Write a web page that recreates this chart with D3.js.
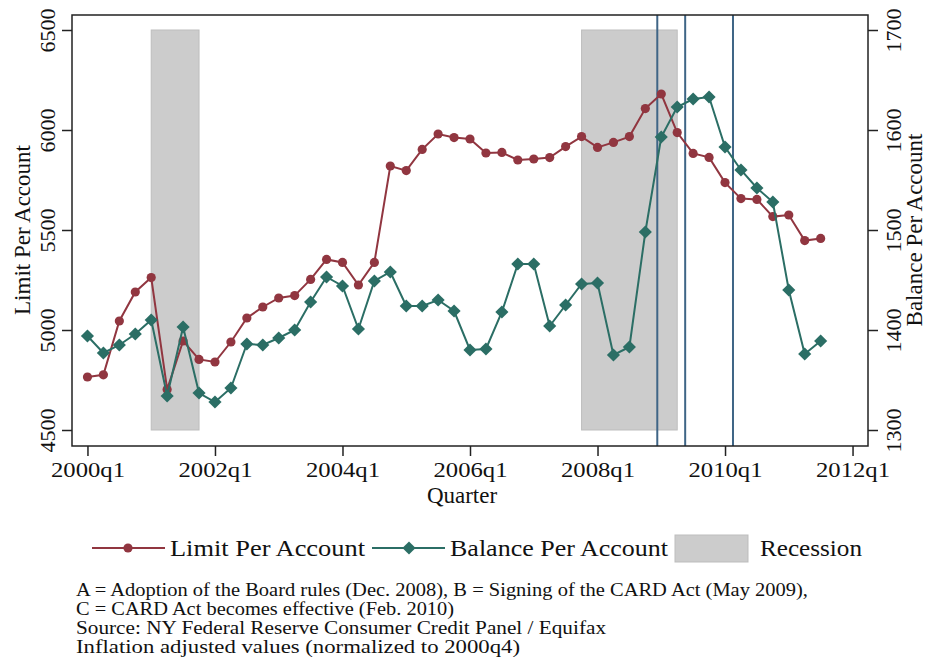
<!DOCTYPE html>
<html>
<head>
<meta charset="utf-8">
<script src="https://cdn.jsdelivr.net/npm/d3@7"></script>
<style>
  body { margin: 0; background: #fff; }
  text { font-family: "Liberation Serif", "DejaVu Serif", serif; fill: #111; }
</style>
</head>
<body>
<script>
(function () {
  'use strict'

  // quarters, 2000q1 = 0
  var quarters = d3.range(47)

  var limitPerAccount = [
    4765, 4776, 5045, 5190, 5262, 4703, 4945, 4853, 4840, 4940,
    5060, 5115, 5160, 5172, 5253, 5353, 5338, 5225, 5338, 5820,
    5797, 5903, 5980, 5962, 5955, 5885, 5888, 5850, 5855, 5862,
    5917, 5967, 5913, 5938, 5967, 6107, 6180, 5987, 5883, 5863,
    5737, 5657, 5653, 5567, 5575, 5447, 5458
  ]

  var balancePerAccount = [
    1394, 1377, 1385, 1396, 1410, 1334, 1403, 1337, 1328, 1342,
    1386, 1385, 1392, 1400, 1428, 1453, 1444, 1401, 1449, 1458,
    1424, 1424, 1430, 1419, 1380, 1381, 1418, 1466, 1466, 1404,
    1425, 1446, 1447, 1375, 1383, 1498, 1593, 1623, 1631, 1633,
    1583, 1560, 1542, 1528, 1440, 1376, 1389
  ]

  // recession spans, in quarter index
  var recessions = [[4, 7], [31, 37]]
  // A, B, C event dates, in quarter index
  var events = [35.75, 37.5, 40.5]

  var xTicks = [0, 8, 16, 24, 32, 40, 48]
  var xTickLabels = ['2000q1', '2002q1', '2004q1', '2006q1', '2008q1', '2010q1', '2012q1']
  var leftTicks = [4500, 5000, 5500, 6000, 6500]
  var rightTicks = [1300, 1400, 1500, 1600, 1700]

  var notes = [
    'A = Adoption of the Board rules (Dec. 2008), B = Signing of the CARD Act (May 2009),',
    'C = CARD Act becomes effective (Feb. 2010)',
    'Source: NY Federal Reserve Consumer Credit Panel / Equifax',
    'Inflation adjusted values (normalized to 2000q4)'
  ]

  var red = '#913640'
  var teal = '#2b6e65'
  var vline = '#3f6586'

  var W = 932
  var H = 663
  var box = { left: 72, top: 15, right: 868, bottom: 446 }

  var svg = d3.select('body').append('svg')
    .attr('width', W)
    .attr('height', H)

  var x = d3.scaleLinear().domain([-0.97, 48.97]).range([box.left, box.right])
  var yL = d3.scaleLinear().domain([4500, 6500]).range([430, 30])
  var yR = d3.scaleLinear().domain([1300, 1700]).range([430, 30])

  // recession shading
  svg.append('g').selectAll('rect')
    .data(recessions)
    .enter().append('rect')
      .attr('x', function (d) { return x(d[0]) })
      .attr('width', function (d) { return x(d[1]) - x(d[0]) })
      .attr('y', yL(6500))
      .attr('height', yL(4500) - yL(6500))
      .attr('fill', '#cccccc')
      .attr('stroke', '#bdbdbd')
      .attr('stroke-width', 1)

  // event lines
  svg.append('g').selectAll('line')
    .data(events)
    .enter().append('line')
      .attr('x1', function (d) { return x(d) })
      .attr('x2', function (d) { return x(d) })
      .attr('y1', box.top)
      .attr('y2', box.bottom)
      .attr('stroke', vline)
      .attr('stroke-width', 2)

  // limit series
  var limitLine = d3.line()
    .x(function (d, i) { return x(quarters[i]) })
    .y(function (d) { return yL(d) })

  svg.append('path')
    .datum(limitPerAccount)
    .attr('d', limitLine)
    .attr('fill', 'none')
    .attr('stroke', red)
    .attr('stroke-width', 2)

  svg.append('g').selectAll('circle')
    .data(limitPerAccount)
    .enter().append('circle')
      .attr('cx', function (d, i) { return x(quarters[i]) })
      .attr('cy', function (d) { return yL(d) })
      .attr('r', 4.6)
      .attr('fill', red)

  // balance series
  var balanceLine = d3.line()
    .x(function (d, i) { return x(quarters[i]) })
    .y(function (d) { return yR(d) })

  svg.append('path')
    .datum(balancePerAccount)
    .attr('d', balanceLine)
    .attr('fill', 'none')
    .attr('stroke', teal)
    .attr('stroke-width', 2)

  var diamond = d3.symbol().type(d3.symbolDiamond2).size(110)

  svg.append('g').selectAll('path')
    .data(balancePerAccount)
    .enter().append('path')
      .attr('d', diamond)
      .attr('transform', function (d, i) {
        return 'translate(' + x(quarters[i]) + ',' + yR(d) + ')'
      })
      .attr('fill', teal)

  // frame
  svg.append('rect')
    .attr('x', box.left)
    .attr('y', box.top)
    .attr('width', box.right - box.left)
    .attr('height', box.bottom - box.top)
    .attr('fill', 'none')
    .attr('stroke', '#222')
    .attr('stroke-width', 1.5)

  // axes
  var bottomAxis = d3.axisBottom(x).tickValues(xTicks)
    .tickFormat(function (d, i) { return xTickLabels[i] })
    .tickSize(10).tickSizeOuter(0).tickPadding(5)
  var gx = svg.append('g')
    .attr('transform', 'translate(0,' + box.bottom + ')')
    .call(bottomAxis)

  var leftAxis = d3.axisLeft(yL).tickValues(leftTicks).tickFormat(d3.format('d'))
    .tickSize(10).tickSizeOuter(0)
  var gl = svg.append('g')
    .attr('transform', 'translate(' + box.left + ',0)')
    .call(leftAxis)

  var rightAxis = d3.axisRight(yR).tickValues(rightTicks).tickFormat(d3.format('d'))
    .tickSize(10).tickSizeOuter(0)
  var gr = svg.append('g')
    .attr('transform', 'translate(' + box.right + ',0)')
    .call(rightAxis)

  ;[gx, gl, gr].forEach(function (g) {
    g.select('.domain').remove()
    g.selectAll('.tick line').attr('stroke', '#222').attr('stroke-width', 1.5)
    g.selectAll('.tick text')
      .attr('font-family', '"Liberation Serif", serif')
      .attr('font-size', 22)
      .attr('fill', '#111')
  })
  gx.selectAll('.tick text').attr('textLength', 74).attr('lengthAdjust', 'spacingAndGlyphs')

  gl.selectAll('.tick text')
    .attr('x', null).attr('dy', null)
    .attr('text-anchor', 'middle')
    .attr('transform', 'translate(-17,0) rotate(-90)')
    .attr('y', 0)

  gr.selectAll('.tick text')
    .attr('x', null).attr('dy', null)
    .attr('text-anchor', 'middle')
    .attr('transform', 'translate(33,0) rotate(-90)')
    .attr('y', 0)

  // axis titles
  svg.append('text')
    .attr('x', x(23.5))
    .attr('y', 503)
    .attr('text-anchor', 'middle')
    .attr('font-size', 23)
    .text('Quarter')

  svg.append('text')
    .attr('transform', 'translate(30,230) rotate(-90)')
    .attr('text-anchor', 'middle')
    .attr('font-size', 23)
    .text('Limit Per Account')

  svg.append('text')
    .attr('transform', 'translate(922,230) rotate(-90)')
    .attr('text-anchor', 'middle')
    .attr('font-size', 23)
    .text('Balance Per Account')

  // legend
  var ly = 548
  var legend = svg.append('g')

  legend.append('line')
    .attr('x1', 92).attr('x2', 165).attr('y1', ly).attr('y2', ly)
    .attr('stroke', red).attr('stroke-width', 2)
  legend.append('circle')
    .attr('cx', 128).attr('cy', ly).attr('r', 4.6).attr('fill', red)
  legend.append('text')
    .attr('x', 170).attr('y', ly + 8)
    .attr('font-size', 23)
    .attr('textLength', 195).attr('lengthAdjust', 'spacingAndGlyphs')
    .text('Limit Per Account')

  legend.append('line')
    .attr('x1', 372).attr('x2', 445).attr('y1', ly).attr('y2', ly)
    .attr('stroke', teal).attr('stroke-width', 2)
  legend.append('path')
    .attr('d', diamond)
    .attr('transform', 'translate(409,' + ly + ')')
    .attr('fill', teal)
  legend.append('text')
    .attr('x', 450).attr('y', ly + 8)
    .attr('font-size', 23)
    .attr('textLength', 218).attr('lengthAdjust', 'spacingAndGlyphs')
    .text('Balance Per Account')

  legend.append('rect')
    .attr('x', 675).attr('y', 535).attr('width', 73).attr('height', 27)
    .attr('fill', '#cccccc').attr('stroke', '#bdbdbd')
  legend.append('text')
    .attr('x', 760).attr('y', ly + 8)
    .attr('font-size', 23)
    .attr('textLength', 102).attr('lengthAdjust', 'spacingAndGlyphs')
    .text('Recession')

  // notes
  var noteWidths = [732, 378, 530, 444]
  svg.append('g').selectAll('text')
    .data(notes)
    .enter().append('text')
      .attr('x', 76)
      .attr('y', function (d, i) { return 596 + i * 19 })
      .attr('font-size', 18)
      .attr('textLength', function (d, i) { return noteWidths[i] })
      .attr('lengthAdjust', 'spacingAndGlyphs')
      .text(function (d) { return d })
}())
</script>
</body>
</html>
